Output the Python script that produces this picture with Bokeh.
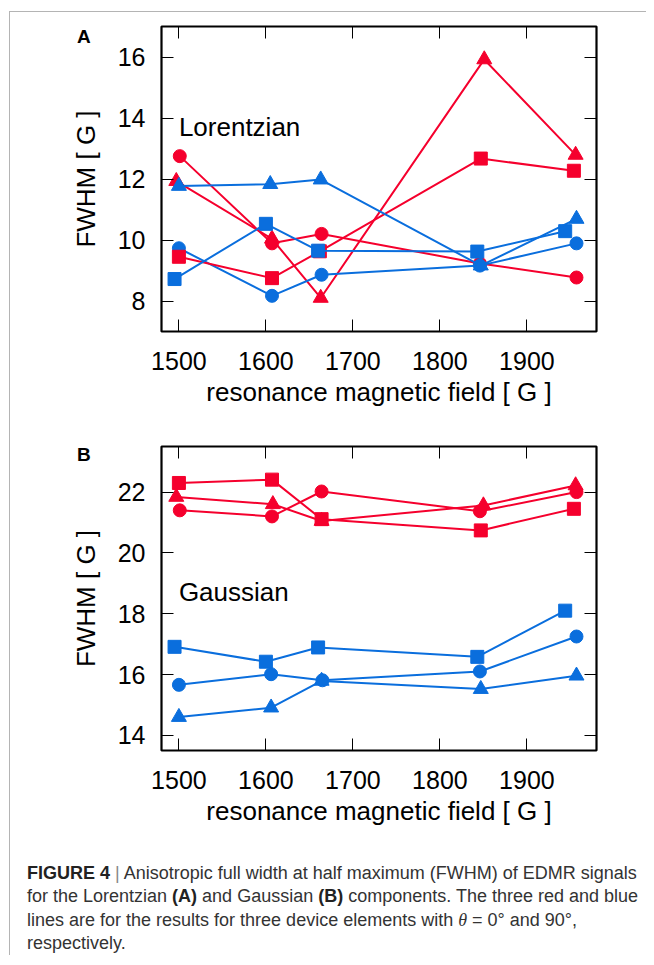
from bokeh.plotting import figure
from bokeh.models import LinearAxis, Label, Div, Range1d, FixedTicker
from bokeh.layouts import column
from bokeh.embed import file_html
from bokeh.resources import INLINE

RED = "#F5002D"
BLUE = "#0A6EDD"

# ---------- Panel A : Lorentzian ----------
a_red_circle_x = [1501, 1607, 1664, 1846, 1957]
a_red_circle_y = [12.75, 9.89, 10.20, 9.23, 8.77]
a_red_square_x = [1500, 1607, 1662, 1847, 1954]
a_red_square_y = [9.45, 8.75, 9.63, 12.67, 12.27]
a_red_tri_x = [1497, 1607, 1663, 1851, 1956]
a_red_tri_y = [11.93, 10.04, 8.10, 15.92, 12.79]
a_blue_circle_x = [1500, 1607, 1664, 1846, 1957]
a_blue_circle_y = [9.73, 8.17, 8.86, 9.16, 9.89]
a_blue_square_x = [1495, 1600, 1660, 1843, 1944]
a_blue_square_y = [8.72, 10.53, 9.65, 9.62, 10.29]
a_blue_tri_x = [1500, 1605, 1663, 1847, 1957]
a_blue_tri_y = [11.77, 11.83, 11.98, 9.16, 10.69]

# ---------- Panel B : Gaussian ----------
b_red_circle_x = [1501, 1607, 1664, 1846, 1957]
b_red_circle_y = [21.40, 21.20, 22.02, 21.37, 22.00]
b_red_square_x = [1500, 1607, 1664, 1847, 1954]
b_red_square_y = [22.30, 22.41, 21.11, 20.74, 21.45]
b_red_tri_x = [1497, 1608, 1664, 1850, 1956]
b_red_tri_y = [21.84, 21.60, 21.05, 21.56, 22.22]
b_blue_circle_x = [1500, 1606, 1665, 1846, 1957]
b_blue_circle_y = [15.66, 16.01, 15.81, 16.10, 17.25]
b_blue_square_x = [1495, 1600, 1660, 1843, 1944]
b_blue_square_y = [16.91, 16.42, 16.89, 16.58, 18.10]
b_blue_tri_x = [1500, 1606, 1664, 1847, 1957]
b_blue_tri_y = [14.60, 14.91, 15.79, 15.52, 15.96]

x_ticks = [1500, 1600, 1700, 1800, 1900]
a_y_ticks = [8, 10, 12, 14, 16]
b_y_ticks = [14, 16, 18, 20, 22]

FONT = "Liberation Sans"


def style_axis(ax, ticks, show_labels=True):
    ax.ticker = FixedTicker(ticks=ticks)
    ax.axis_line_color = None
    ax.major_tick_in = 12
    ax.major_tick_out = 0
    ax.major_tick_line_color = "black"
    ax.major_tick_line_width = 1
    ax.minor_tick_line_color = None
    ax.major_label_text_font = FONT
    ax.major_label_text_color = "black"
    ax.axis_label_text_font = FONT
    ax.axis_label_text_font_style = "normal"
    ax.axis_label_text_color = "black"
    ax.axis_label_text_font_size = "26px"
    if show_labels:
        ax.major_label_text_font_size = "25px"
    else:
        ax.major_label_text_font_size = "1px"
        ax.major_label_text_color = None
        ax.major_label_standoff = 0


def make_panel(name, name_y, y_lo, y_hi, yticks, series, height, mbt, mbb):
    p = figure(width=636, height=height,
               x_range=Range1d(1480, 1980), y_range=Range1d(y_lo, y_hi),
               output_backend="svg", toolbar_location=None,
               min_border_left=151, min_border_right=50,
               min_border_top=mbt, min_border_bottom=mbb,
               background_fill_color="white", border_fill_color="white")
    p.grid.visible = False
    p.outline_line_color = "black"
    p.outline_line_width = 2.2
    p.outline_line_alpha = 1.0

    xa = p.xaxis[0]
    ya = p.yaxis[0]
    style_axis(xa, x_ticks)
    style_axis(ya, yticks)
    xa.axis_label = "resonance magnetic field [ G ]"
    ya.axis_label = "FWHM [ G ]"
    xa.major_label_standoff = 20
    xa.axis_label_standoff = 4
    ya.major_label_standoff = 16
    ya.axis_label_standoff = 14

    top = LinearAxis()
    style_axis(top, x_ticks, show_labels=False)
    p.add_layout(top, "above")
    right = LinearAxis()
    style_axis(right, yticks, show_labels=False)
    p.add_layout(right, "right")

    for xs, ys, marker, color, size in series:
        p.line(xs, ys, line_color=color, line_width=2)
        p.scatter(xs, ys, marker=marker, size=size, fill_color=color, line_color=color)

    p.add_layout(Label(x=1500, y=name_y, text=name, text_font=FONT,
                       text_font_size="26px", text_color="black",
                       text_baseline="alphabetic", text_align="left"))
    return p


series_a = [
    (a_red_tri_x, a_red_tri_y, "triangle", RED, 15),
    (a_red_circle_x, a_red_circle_y, "circle", RED, 13),
    (a_blue_circle_x, a_blue_circle_y, "circle", BLUE, 13),
    (a_red_square_x, a_red_square_y, "square", RED, 13),
    (a_blue_square_x, a_blue_square_y, "square", BLUE, 13),
    (a_blue_tri_x, a_blue_tri_y, "triangle", BLUE, 15),
]
series_b = [
    (b_red_tri_x, b_red_tri_y, "triangle", RED, 15),
    (b_red_circle_x, b_red_circle_y, "circle", RED, 13),
    (b_blue_circle_x, b_blue_circle_y, "circle", BLUE, 13),
    (b_red_square_x, b_red_square_y, "square", RED, 13),
    (b_blue_square_x, b_blue_square_y, "square", BLUE, 13),
    (b_blue_tri_x, b_blue_tri_y, "triangle", BLUE, 15),
]

pa = make_panel("Lorentzian", 13.69, 7, 17, a_y_ticks, series_a, 418, 14, 99)
pb = make_panel("Gaussian", 18.70, 13.5, 23.5, b_y_ticks, series_b, 400, 16, 80)

caption_html = (
    '<b style="color:#222">FIGURE 4</b> <span style="color:#888">|</span> '
    'Anisotropic full width at half maximum (FWHM) of EDMR signals<br>'
    'for the Lorentzian <b style="color:#222">(A)</b> and Gaussian <b style="color:#222">(B)</b> '
    'components. The three red and blue<br>'
    'lines are for the results for three device elements with '
    '<i style="font-family:\'Liberation Serif\',serif">&theta;</i> = 0&deg; and 90&deg;,<br>'
    'respectively.'
)
cap = Div(text=caption_html, width=615, margin=(32, 0, 0, 17),
          styles={"font-family": "'Liberation Sans', sans-serif",
                  "font-size": "18px", "line-height": "23.3px",
                  "color": "#333333", "white-space": "nowrap"})

letter_style = {"position": "absolute", "font-family": "'Liberation Sans', sans-serif",
                "font-size": "19px", "font-weight": "bold", "color": "black",
                "line-height": "22px", "z-index": "5"}
div_a = Div(text="A", width=20, height=22, margin=(0, 0, 0, 0),
            styles=dict(letter_style, left="67px", top="14px"))
div_b = Div(text="B", width=20, height=22, margin=(0, 0, 0, 0),
            styles=dict(letter_style, left="67px", top="432px"))

layout = column(pa, pb, cap, div_a, div_b, margin=(11, 0, 0, 9),
                styles={"border-left": "1.5px solid #b4b4b4",
                        "border-top": "1.5px solid #b4b4b4",
                        "position": "relative"})

html = file_html(layout, INLINE)
open("out.html", "w").write(html)
